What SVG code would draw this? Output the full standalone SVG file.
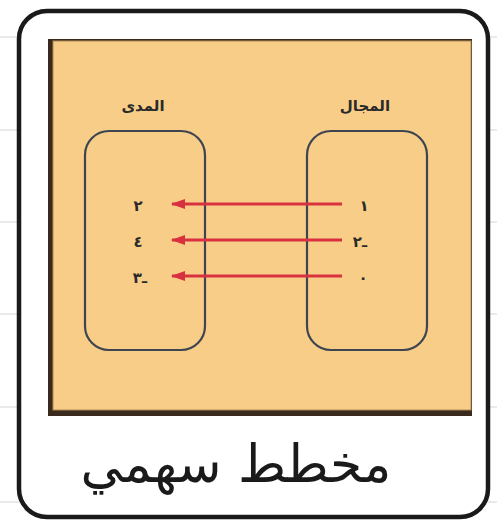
<svg xmlns="http://www.w3.org/2000/svg" width="497" height="524" viewBox="0 0 497 524">
<defs>
<style>
.rule{stroke:#d6d6d6;stroke-width:1.2}
.set{fill:none;stroke:#3d4550;stroke-width:2.2}
.lbl{font-family:"DejaVu Sans",sans-serif;font-weight:bold;font-size:15px;fill:#2a2a2a;text-anchor:middle}
.num{font-family:"DejaVu Sans",sans-serif;font-weight:bold;font-size:15px;fill:#2a2a2a;text-anchor:middle}
.arr{stroke:#d8313f;stroke-width:2.8;fill:none;marker-end:url(#ah)}
.title{font-family:"DejaVu Sans",sans-serif;font-size:52px;fill:#1a1a1a;text-anchor:middle}
</style>
<marker id="ah" viewBox="0 0 14 10" refX="13" refY="5" markerWidth="14" markerHeight="10" orient="auto" markerUnits="userSpaceOnUse">
<path d="M0,0 L14,5 L0,10 Z" fill="#d8313f"/>
</marker>
</defs>
<rect width="497" height="524" fill="#ffffff"/>
<g id="rules">
<line class="rule" x1="0" y1="37" x2="497" y2="37"/>
<line class="rule" x1="0" y1="130" x2="497" y2="130"/>
<line class="rule" x1="0" y1="222" x2="497" y2="222"/>
<line class="rule" x1="0" y1="314" x2="497" y2="314"/>
<line class="rule" x1="0" y1="407" x2="497" y2="407"/>
<line class="rule" x1="0" y1="502" x2="497" y2="502"/>
</g>
<g id="frame">
<rect x="19" y="11" width="469" height="506" rx="28" fill="#ffffff" stroke="#1a1a1a" stroke-width="4.5"/>
</g>
<g id="panel">
<rect x="48" y="39" width="424" height="377" fill="#3a2a1e"/>
<rect x="53" y="41" width="418" height="369" fill="#f8cd88" stroke="#b08a55" stroke-width="1"/>
</g>
<g id="range">
<rect class="set" x="85" y="131" width="120" height="219" rx="24"/>
<text class="lbl" x="143" y="111" direction="rtl">المدى</text>
<text class="num" x="138" y="211">٢</text>
<text class="num" x="138" y="247">٤</text>
<text class="num" x="140" y="283" direction="ltr" unicode-bidi="bidi-override">٣ـ</text>
</g>
<g id="domain">
<rect class="set" x="307" y="131" width="120" height="219" rx="24"/>
<text class="lbl" x="365" y="111" direction="rtl">المجال</text>
<text class="num" x="364" y="211">١</text>
<text class="num" x="360" y="247" direction="ltr" unicode-bidi="bidi-override">٢ـ</text>
<text class="num" x="363" y="283">٠</text>
</g>
<g id="connectors">
<line class="arr" x1="342" y1="204" x2="172" y2="204"/>
<line class="arr" x1="342" y1="240" x2="172" y2="240"/>
<line class="arr" x1="342" y1="276" x2="172" y2="276"/>
</g>
<g id="caption">
<text class="title" x="236" y="482" direction="rtl">مخطط سهمي</text>
</g>
</svg>
